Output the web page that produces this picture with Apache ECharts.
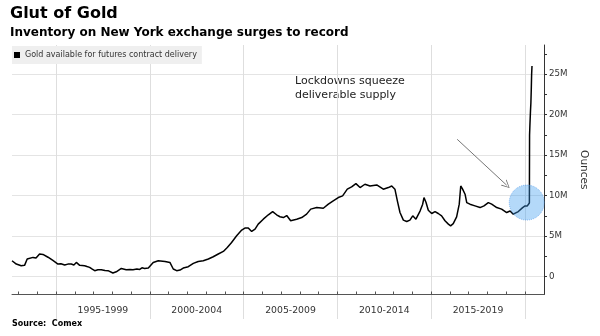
<!DOCTYPE html>
<html>
<head>
<meta charset="utf-8">
<script src="https://cdn.jsdelivr.net/npm/echarts@6/dist/echarts.min.js"></script>
<style>
  html, body { margin: 0; padding: 0; background: #ffffff; }
  #chart { width: 600px; height: 336px; }
</style>
</head>
<body>
<div id="chart"></div>
<script>
// Comex gold available for futures delivery, million troy ounces
const years = [
  1992.65, 1992.88, 1993.14, 1993.32, 1993.46, 1993.77, 1993.93, 1994.12, 1994.30, 1994.57,
  1994.83, 1995.10, 1995.26, 1995.46, 1995.63, 1995.81, 1995.95, 1996.08, 1996.26, 1996.52,
  1996.65, 1996.79, 1996.91, 1997.06, 1997.23, 1997.41, 1997.61, 1997.77, 1998.03, 1998.21,
  1998.48, 1998.74, 1998.94, 1999.10, 1999.31, 1999.46, 1999.58, 1999.72, 1999.92, 2000.18,
  2000.45, 2000.81, 2001.07, 2001.25, 2001.43, 2001.61, 2001.78, 2002.05, 2002.32, 2002.58,
  2002.85, 2003.12, 2003.38, 2003.65, 2003.92, 2004.13, 2004.36, 2004.63, 2004.90, 2005.07,
  2005.25, 2005.43, 2005.61, 2005.78, 2006.05, 2006.32, 2006.55, 2006.76, 2006.94, 2007.12,
  2007.30, 2007.51, 2007.83, 2008.10, 2008.36, 2008.58, 2008.90, 2009.25, 2009.52, 2009.78,
  2010.05, 2010.28, 2010.53, 2010.76, 2010.99, 2011.21, 2011.47, 2011.74, 2012.10, 2012.45,
  2012.72, 2012.90, 2013.07, 2013.20, 2013.34, 2013.52, 2013.70, 2013.87, 2014.02, 2014.19,
  2014.41, 2014.55, 2014.62, 2014.73, 2014.85, 2015.03, 2015.21, 2015.38, 2015.56, 2015.74,
  2015.92, 2016.04, 2016.18, 2016.36, 2016.50, 2016.58, 2016.68, 2016.81, 2016.90, 2017.07,
  2017.34, 2017.61, 2017.82, 2018.05, 2018.23, 2018.50, 2018.76, 2019.03, 2019.21, 2019.38,
  2019.65, 2019.88, 2020.01, 2020.13, 2020.20, 2020.24, 2020.25, 2020.27, 2020.30, 2020.32,
  2020.34, 2020.36, 2020.38
];
const ounces = [
  1.97, 1.56, 1.35, 1.40, 2.18, 2.38, 2.30, 2.80, 2.75, 2.40,
  2.00, 1.56, 1.60, 1.44, 1.55, 1.56, 1.45, 1.76, 1.40, 1.35,
  1.25, 1.15, 0.95, 0.74, 0.85, 0.86, 0.75, 0.74, 0.45, 0.60,
  1.02, 0.86, 0.90, 0.86, 0.95, 0.90, 1.10, 1.02, 1.07, 1.76,
  1.97, 1.88, 1.76, 0.95, 0.74, 0.82, 1.07, 1.23, 1.64, 1.88,
  1.97, 2.18, 2.46, 2.80, 3.12, 3.61, 4.22, 5.05, 5.75, 6.00,
  6.00, 5.58, 5.87, 6.49, 7.10, 7.64, 8.04, 7.64, 7.40, 7.30,
  7.55, 6.90, 7.10, 7.30, 7.72, 8.34, 8.53, 8.45, 8.95, 9.36,
  9.77, 9.97, 10.80, 11.08, 11.49, 11.00, 11.41, 11.20, 11.33, 10.80,
  11.00, 11.20, 10.80, 9.36, 7.92, 6.98, 6.81, 6.98, 7.51, 7.10,
  8.10, 8.95, 9.77, 9.15, 8.21, 7.80, 8.04, 7.80, 7.51, 6.90,
  6.49, 6.28, 6.55, 7.39, 8.95, 11.20, 10.80, 10.18, 9.15, 8.95,
  8.74, 8.53, 8.74, 9.15, 8.95, 8.53, 8.34, 7.92, 8.10, 7.72,
  8.04, 8.53, 8.74, 8.74, 8.95, 9.10, 17.50, 18.80, 20.50, 21.40,
  23.00, 25.00, 26.00
];

// Axis ticks and labels
const periodBounds = [1995, 2000, 2005, 2010, 2015, 2020];
const periodMids = [1997.5, 2002.5, 2007.5, 2012.5, 2017.5];
const periodLabels = ['1995-1999', '2000-2004', '2005-2009', '2010-2014', '2015-2019'];
const yearTicks = [1993, 1994, 1995, 1996, 1997, 1998, 1999, 2000, 2001, 2002, 2003, 2004, 2005,
  2006, 2007, 2008, 2009, 2010, 2011, 2012, 2013, 2014, 2015, 2016, 2017, 2018, 2019, 2020];
const valueLabels = [0, 5, 10, 15, 20, 25];
const valueTicks = [0, 2.5, 5, 7.5, 10, 12.5, 15, 17.5, 20, 22.5, 25, 27.5];

// Annotation anchors (year, million oz)
const highlight = [2020.10, 9.15];
const arrowFrom = [2016.39, 16.96];
const arrowTo = [2019.03, 11.29];

const X_MIN = 1992.65, X_MAX = 2021.02;
const Y_MIN = -2.2, Y_MAX = 28.6;

const FONT = 'DejaVu Sans';
const chart = echarts.init(document.getElementById('chart'), null, { renderer: 'canvas' });

chart.setOption({
  animation: false,
  backgroundColor: '#ffffff',
  textStyle: { fontFamily: FONT },
  grid: [
    { left: 12, right: 56, top: 45, bottom: 41.5 },
    { left: 12, right: 56, top: 45, bottom: 17 }
  ],
  legend: {
    left: 12, top: 46,
    padding: [5, 5, 5, 2],
    backgroundColor: '#efefef',
    icon: 'rect', itemWidth: 6, itemHeight: 6,
    textStyle: { fontFamily: FONT, fontSize: 8, color: '#333' },
    data: ['Gold available for futures contract delivery'],
    selectedMode: false
  },
  xAxis: [
    {
      type: 'value', gridIndex: 0, min: X_MIN, max: X_MAX,
      axisLine: { show: true, onZero: false, lineStyle: { color: '#555', width: 1 } },
      axisTick: { show: true, inside: true, length: 3, customValues: yearTicks, lineStyle: { color: '#555' } },
      axisLabel: {
        customValues: periodMids,
        formatter: v => periodLabels[periodMids.indexOf(v)] || '',
        margin: 12, fontSize: 9.3, color: '#333', fontFamily: FONT
      },
      splitLine: { show: false }
    },
    {
      type: 'value', gridIndex: 1, min: X_MIN, max: X_MAX,
      axisLine: { show: false },
      axisTick: { show: false, customValues: periodBounds },
      axisLabel: { show: false },
      splitLine: { show: true, lineStyle: { color: '#dedede', width: 1 } }
    }
  ],
  yAxis: [
    {
      type: 'value', gridIndex: 0, position: 'right', min: Y_MIN, max: Y_MAX,
      axisLine: { show: true, onZero: false, lineStyle: { color: '#333', width: 1 } },
      axisTick: { show: true, length: 3, customValues: valueTicks, lineStyle: { color: '#333' } },
      axisLabel: {
        customValues: valueLabels,
        formatter: v => (v === 0 ? '0' : v + 'M'),
        margin: 5, fontSize: 8.7, color: '#333', fontFamily: FONT
      },
      splitLine: { show: true, lineStyle: { color: ['#e4e4e4', 'rgba(0,0,0,0)'], width: 1 } },
      name: 'Ounces', nameLocation: 'middle', nameRotate: -90, nameGap: 28,
      nameTextStyle: { fontSize: 10.5, color: '#333', fontFamily: FONT }
    },
    { type: 'value', gridIndex: 1, show: false, min: 0, max: 1 }
  ],
  title: [
    { text: 'Glut of Gold', left: 10, top: 6, padding: 0,
      textStyle: { fontFamily: FONT, fontSize: 16, fontWeight: 'bold', color: '#000' } },
    { text: 'Inventory on New York exchange surges to record', left: 10, top: 27, padding: 0,
      textStyle: { fontFamily: FONT, fontSize: 12, fontWeight: 'bold', color: '#000' } },
    { text: 'Source:  Comex', left: 12, top: 320, padding: 0,
      textStyle: { fontFamily: FONT, fontSize: 8, fontWeight: 'bold', color: '#000' } }
  ],
  graphic: [
    { type: 'text', left: 295, top: 74, silent: true,
      style: { text: 'Lockdowns squeeze\ndeliverable supply', fill: '#222',
        font: '11px "DejaVu Sans"', lineHeight: 14 } }
  ],
  series: [
    {
      name: 'Gold available for futures contract delivery',
      type: 'line', xAxisIndex: 0, yAxisIndex: 0,
      data: years.map((y, i) => [y, ounces[i]]),
      showSymbol: false, symbol: 'none',
      lineStyle: { color: '#000', width: 1.5 },
      itemStyle: { color: '#000' },
      z: 3,
      markLine: {
        silent: true, animation: false,
        symbol: ['none', 'path://M0,10 L5,0 L10,10 L9,10 L5,1.8 L1,10 Z'],
        symbolSize: [8, 8],
        label: { show: false },
        lineStyle: { color: '#666', width: 0.9, type: 'solid' },
        data: [[{ coord: arrowFrom }, { coord: arrowTo }]]
      }
    },
    {
      type: 'scatter', xAxisIndex: 0, yAxisIndex: 0,
      data: [highlight],
      symbol: 'circle', symbolSize: 35,
      itemStyle: { color: 'rgba(60,155,240,0.48)', borderColor: 'rgba(60,140,230,0.7)',
        borderWidth: 1, borderType: 'dotted' },
      silent: true, z: 4
    }
  ]
});
</script>
</body>
</html>
